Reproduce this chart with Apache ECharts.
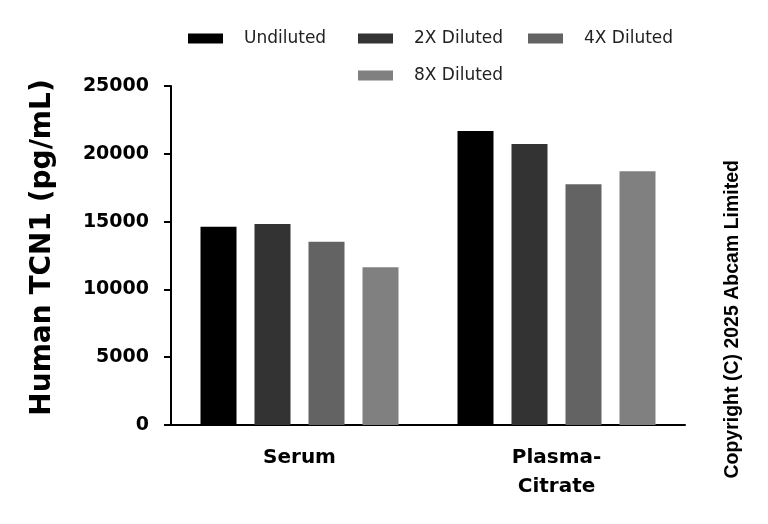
<!DOCTYPE html>
<html>
<head>
<meta charset="utf-8">
<script src="https://cdn.jsdelivr.net/npm/echarts@6/dist/echarts.min.js"></script>
<style>
  html, body { margin: 0; padding: 0; background: #fff; }
  #chart { width: 768px; height: 524px; }
</style>
</head>
<body>
<div id="chart"></div>
<script type="text/javascript">
    const categories = ['Serum', 'Plasma-\nCitrate'];
    const seriesNames = ['Undiluted', '2X Diluted', '4X Diluted', '8X Diluted'];
    const undiluted = [14620, 21680];
    const diluted2x = [14820, 20720];
    const diluted4x = [13520, 17750];
    const diluted8x = [11630, 18710];
    const colors = ['#000000', '#333333', '#636363', '#808080'];

    const values = [undiluted, diluted2x, diluted4x, diluted8x];
    const chart = echarts.init(document.getElementById('chart'));

    const legendFont = { fontFamily: 'DejaVu Sans', fontSize: 17, color: '#222' };
    const legendPos = [[183, 25], [353, 25], [523, 25], [353, 62]];
    const legends = seriesNames.map((name, i) => ({
        data: [name],
        left: legendPos[i][0],
        top: legendPos[i][1],
        itemWidth: 35,
        itemHeight: 10,
        itemGap: 0,
        icon: 'rect',
        textStyle: Object.assign({ padding: [0, 0, 0, 16] }, legendFont)
    }));

    chart.setOption({
        animation: false,
        legend: legends,
        grid: { left: 171, right: 83, top: 86, bottom: 99 },
        xAxis: {
            type: 'category',
            data: categories,
            axisLine: { lineStyle: { color: '#000', width: 2 } },
            axisTick: { alignWithLabel: true, length: 7, lineStyle: { width: 2, color: '#000' } },
            axisLabel: {
                fontFamily: 'DejaVu Sans', fontWeight: 'bold', fontSize: 20, color: '#000',
                margin: 18, lineHeight: 29
            }
        },
        yAxis: {
            type: 'value',
            min: 0, max: 25000, interval: 5000,
            name: 'Human TCN1 (pg/mL)',
            nameLocation: 'middle',
            nameGap: 114,
            nameTextStyle: {
                fontFamily: 'DejaVu Sans', fontWeight: 'bold', fontSize: 28, color: '#000',
                padding: [0, 0, 0, 16]
            },
            splitLine: { show: false },
            axisLine: { show: true, lineStyle: { color: '#000', width: 2 } },
            axisTick: { show: true, length: 7, lineStyle: { width: 2, color: '#000' } },
            axisLabel: {
                fontFamily: 'DejaVu Sans', fontWeight: 'bold', fontSize: 19, color: '#000', margin: 22,
                formatter: v => String(v)
            }
        },
        series: seriesNames.map((name, i) => ({
            name: name,
            type: 'bar',
            data: values[i],
            barWidth: 36,
            barGap: '50%',
            itemStyle: { color: colors[i] }
        })),
        graphic: [{
            type: 'text',
            left: 723,
            top: 160,
            rotation: Math.PI / 2,
            style: {
                text: 'Copyright (C) 2025 Abcam Limited',
                fontFamily: 'Liberation Sans', fontWeight: 'bold', fontSize: 19.5, fill: '#000'
            }
        }]
    });
</script>
</body>
</html>
